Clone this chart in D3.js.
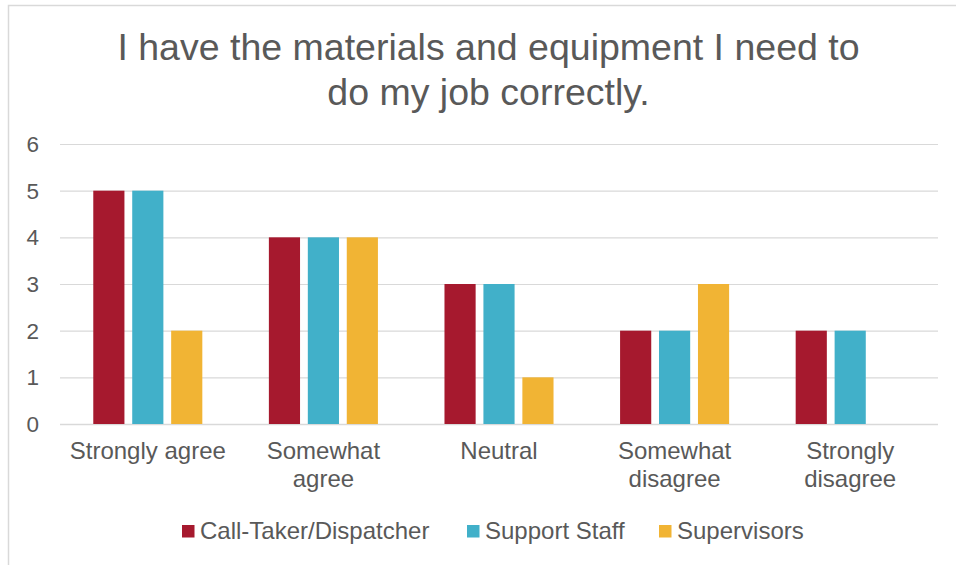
<!DOCTYPE html>
<html>
<head>
<meta charset="utf-8">
<script src="https://cdn.jsdelivr.net/npm/d3@7"></script>
<style>
  html, body { margin: 0; padding: 0; background: #fff; }
  svg { display: block; font-family: "Liberation Sans", Arial, sans-serif; }
</style>
</head>
<body>
<svg id="chart" width="956" height="565"></svg>
<script>
// Survey responses by role
const titleLines = ["I have the materials and equipment I need to", "do my job correctly."];
const categories = [["Strongly agree"], ["Somewhat", "agree"], ["Neutral"], ["Somewhat", "disagree"], ["Strongly", "disagree"]];
const seriesNames = ["Call-Taker/Dispatcher", "Support Staff", "Supervisors"];
const callTaker = [5, 4, 3, 2, 2];
const supportStaff = [5, 4, 3, 2, 2];
const supervisors = [2, 4, 1, 3, 0];
const yTicks = [0, 1, 2, 3, 4, 5, 6];
const colors = ["#A6192E", "#41B0C9", "#F1B434"];

const series = [callTaker, supportStaff, supervisors];
const textColor = "#595959";
const gridColor = "#d9d9d9";

const svg = d3.select("#chart");

// chart-area frame
svg.append("rect")
  .attr("x", 8.5).attr("y", 5.5)
  .attr("width", 1000).attr("height", 1000)
  .attr("fill", "none").attr("stroke", gridColor).attr("stroke-width", 1.5);

// title
svg.append("text")
  .attr("text-anchor", "middle")
  .attr("fill", textColor)
  .style("font-size", "37.5px")
  .selectAll("tspan").data(titleLines).join("tspan")
  .attr("x", 488.5)
  .attr("y", (d, i) => 59.5 + i * 45)
  .text(d => d);

const plotLeft = 60, plotRight = 938, plotTop = 144, plotBottom = 424;

const catIdx = d3.range(categories.length);
const x = d3.scaleBand().domain(catIdx).range([plotLeft, plotRight]).paddingInner(0.379).paddingOuter(0.1895);
const xs = d3.scaleBand().domain(d3.range(series.length)).range([0, x.bandwidth()]).paddingInner(0.2);
const y = d3.scaleLinear().domain([0, 6]).range([plotBottom, plotTop]);

// gridlines
svg.append("g").selectAll("line").data(yTicks).join("line")
  .attr("x1", plotLeft).attr("x2", plotRight)
  .attr("y1", d => y(d) + 0.5).attr("y2", d => y(d) + 0.5)
  .attr("stroke", gridColor).attr("stroke-width", d => d === 0 ? 1.5 : 1.2);

// y tick labels
svg.append("g").selectAll("text").data(yTicks).join("text")
  .attr("x", 39).attr("y", d => y(d))
  .attr("dy", "0.35em")
  .attr("text-anchor", "end")
  .attr("fill", textColor)
  .style("font-size", "22.5px")
  .text(d => d);

// bars
const groups = svg.append("g").selectAll("g").data(series).join("g")
  .attr("fill", (d, i) => colors[i])
  .attr("transform", (d, i) => `translate(${xs(i)},0)`);

groups.selectAll("rect").data(d => d).join("rect")
  .attr("x", (d, i) => x(i))
  .attr("y", d => y(d))
  .attr("width", xs.bandwidth())
  .attr("height", d => y(0) - y(d));

// category labels
const catLabels = svg.append("g").selectAll("text").data(categories).join("text")
  .attr("text-anchor", "middle")
  .attr("fill", textColor)
  .style("font-size", "24px");
catLabels.selectAll("tspan").data((d, i) => d.map(t => ({ t, i }))).join("tspan")
  .attr("x", d => x(d.i) + x.bandwidth() / 2)
  .attr("y", (d, j) => 459 + j * 27.5)
  .text(d => d.t);

// legend
const legendX = [182, 467, 659];
const legend = svg.append("g").selectAll("g").data(seriesNames).join("g")
  .attr("transform", (d, i) => `translate(${legendX[i]},0)`);
legend.append("rect")
  .attr("x", 0).attr("y", 525)
  .attr("width", 12.5).attr("height", 12.5)
  .attr("fill", (d, i) => colors[i]);
legend.append("text")
  .attr("x", 18).attr("y", 538.5)
  .attr("fill", textColor)
  .style("font-size", "24px")
  .text(d => d);
</script>
</body>
</html>
